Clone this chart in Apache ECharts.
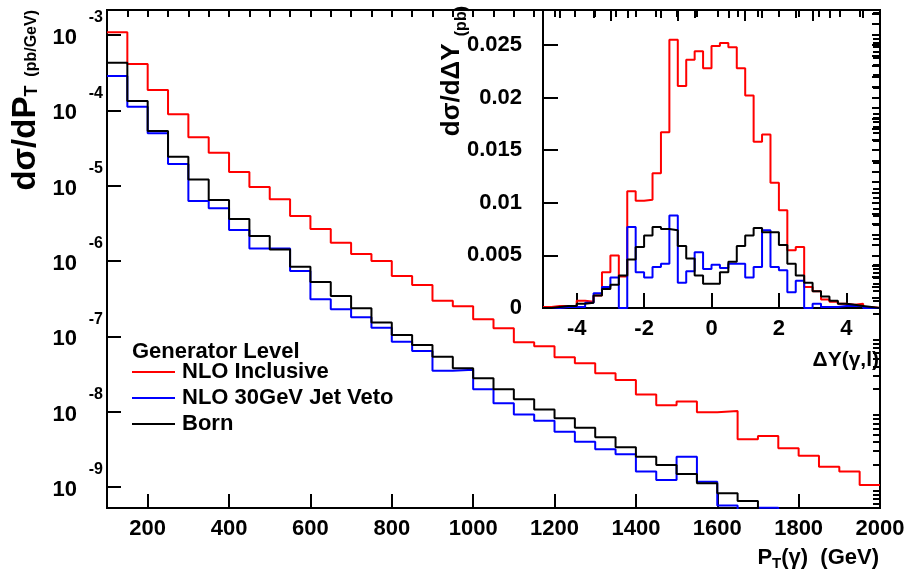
<!doctype html>
<html lang="en">
  <head>
    <meta charset="UTF-8" />
    <title>Generator level pT and delta Y</title>
    <script src="https://cdn.jsdelivr.net/npm/echarts@6/dist/echarts.min.js"></script>
    <style>
      html, body { margin: 0; padding: 0; background: #fff; }
      #chart { width: 914px; height: 576px; }
    </style>
  </head>
  <body>
    <div id="chart"></div>
    <script>
      // main panel: pT(gamma) histograms, 50 GeV bins starting at 100 GeV (pb/GeV)
      const ptStart = 100;
      const ptWidth = 50;
      const ptInclusive = [1.09e-3, 4.12e-4, 1.86e-4, 8.85e-5, 4.38e-5, 2.74e-5, 1.52e-5, 9.6e-6, 6.59e-6, 3.95e-6,
        2.66e-6, 1.75e-6, 1.24e-6, 1.0e-6, 6.32e-7, 4.8e-7, 2.97e-7, 2.5e-7, 1.68e-7, 1.28e-7,
        8.34e-8, 7.36e-8, 5.26e-8, 4.38e-8, 3.23e-8, 2.63e-8, 1.69e-8, 1.22e-8, 1.36e-8, 9.8e-9,
        1.02e-8, 4.3e-9, 4.75e-9, 3.26e-9, 2.6e-9, 1.86e-9, 1.6e-9, 1.06e-9];
      const ptJetVeto = [2.86e-4, 1.12e-4, 4.95e-5, 1.94e-5, 6.25e-6, 5.0e-6, 2.58e-6, 1.46e-6, 1.46e-6, 7.36e-7,
        3.1e-7, 2.29e-7, 1.79e-7, 1.3e-7, 8.49e-8, 6.38e-8, 3.5e-8, 3.61e-8, 1.98e-8, 1.29e-8,
        9.2e-9, 7.59e-9, 5.42e-9, 3.99e-9, 3.16e-9, 2.72e-9, 1.6e-9, 1.24e-9, 2.52e-9, 1.17e-9,
        5.68e-10, 0, 5.31e-10, 0, 0, 0, 0, 0];
      const ptBorn = [4.29e-4, 1.33e-4, 5.32e-5, 2.42e-5, 1.21e-5, 6.45e-6, 3.61e-6, 2.15e-6, 1.42e-6, 8.4e-7,
        5.26e-7, 3.43e-7, 2.36e-7, 1.53e-7, 1.04e-7, 7.67e-8, 5.36e-8, 3.76e-8, 2.77e-8, 1.98e-8,
        1.46e-8, 1.07e-8, 8.17e-9, 6.12e-9, 4.56e-9, 3.37e-9, 2.52e-9, 1.96e-9, 1.49e-9, 1.12e-9,
        8.24e-10, 6.52e-10, 0, 0, 0, 0, 0, 0];

      // inset: delta Y(gamma,l) histograms, 0.25 wide bins starting at -5 (pb)
      const dyStart = -5;
      const dyWidth = 0.25;
      const dyInclusive = [0.0001, 0.0002, 0.0002, 0.0002, 0.0007, 0.0006, 0.0012, 0.0034, 0.005, 0.003,
        0.0111, 0.0102, 0.0103, 0.0128, 0.0167, 0.0255, 0.0211, 0.0236, 0.0244, 0.0228,
        0.0249, 0.0252, 0.0248, 0.0228, 0.0202, 0.0158, 0.0165, 0.0119, 0.0093, 0.0055,
        0.0058, 0.002, 0.0016, 0.0008, 0.0006, 0.0004, 0.0003, 0.0004, 0.0001, 0];
      const dyJetVeto = [0, 0, 0.0001, 0.0001, 0.0001, 0.0005, 0.0014, 0.002, 0.0029, 0,
        0.0077, 0.0034, 0.0029, 0.0039, 0.0042, 0.0088, 0.0024, 0.0035, 0.0053, 0.0037,
        0.0041, 0.0038, 0.0042, 0.0042, 0.0029, 0.0039, 0.0074, 0.0039, 0.0036, 0.0015,
        0.0026, 0, 0.0004, 0.0001, 0.0001, 0.0002, 0.0002, 0.0002, 0, 0];
      const dyBorn = [0, 0.0001, 0.0002, 0.0002, 0.0004, 0.0005, 0.0012, 0.0018, 0.0022, 0.0031,
        0.0046, 0.0058, 0.0069, 0.0077, 0.0075, 0.0074, 0.0059, 0.0047, 0.0031, 0.0023,
        0.0023, 0.0034, 0.0044, 0.0059, 0.0069, 0.0076, 0.0072, 0.0072, 0.006, 0.0042,
        0.0031, 0.0024, 0.0016, 0.0011, 0.0007, 0.0004, 0.0003, 0.0002, 0.0001, 0];

      // ticks and labels
      const ptLabels = [200, 400, 600, 800, 1000, 1200, 1400, 1600, 1800, 2000];
      const ptMinor = [];
      for (let v = 150; v < 2000; v += 50) ptMinor.push(v);
      const decades = [1e-9, 1e-8, 1e-7, 1e-6, 1e-5, 1e-4, 1e-3];
      const decadeMinor = [];
      [1e-10].concat(decades).forEach((d) => {
        for (let k = 2; k <= 9; k++) decadeMinor.push(k * d);
      });
      const dyLabels = [-4, -2, 0, 2, 4];
      const dyMid = [-5, -3, -1, 1, 3, 5];
      const dyMinor = [-4.5, -3.5, -2.5, -1.5, -0.5, 0.5, 1.5, 2.5, 3.5, 4.5];
      const dsLabels = [0, 0.005, 0.01, 0.015, 0.02, 0.025];
      const dsMinor = [];
      for (let i = 1; i <= 28; i++) dsMinor.push(i / 1000);

      const FONT = 'Liberation Sans, Arial, Helvetica, sans-serif';
      const RED = '#ff0000';
      const BLUE = '#0000ff';
      const BLACK = '#000000';

      // histogram -> step points (left bin edges + closing right edge)
      const histo = (start, width, vals, floor) => {
        const pts = vals.map((v, i) => [start + i * width, v > 0 ? v : floor]);
        pts.push([start + vals.length * width, pts[pts.length - 1][1]]);
        return pts;
      };

      const tickAxis = (grid, type, min, max, values, len, extra) =>
        Object.assign(
          {
            gridIndex: grid,
            type: type,
            min: min,
            max: max,
            axisLine: { show: false, onZero: false },
            splitLine: { show: false },
            axisLabel: { show: false },
            axisTick: { show: true, inside: true, length: len, customValues: values, lineStyle: { color: BLACK, width: 2 } },
          },
          extra || {}
        );

      const labelStyle = { color: BLACK, fontFamily: FONT, fontWeight: 'bold', fontSize: 22, formatter: (v) => String(v) };
      const mainLine = { show: true, onZero: false, lineStyle: { color: BLACK, width: 2 } };

      const chart = echarts.init(document.getElementById('chart'));
      chart.setOption({
        animation: false,
        backgroundColor: '#fff',
        textStyle: { fontFamily: FONT },
        grid: [
          { left: 107, top: 10, right: 34, bottom: 68, show: true, borderColor: BLACK, borderWidth: 2, backgroundColor: 'transparent', containLabel: false, outerBoundsMode: 'none' },
          { left: 543, top: 10, right: 34, bottom: 268, show: true, borderColor: BLACK, borderWidth: 2, backgroundColor: 'transparent', containLabel: false, outerBoundsMode: 'none' },
        ],
        title: {
          text: 'Generator Level',
          left: 132,
          top: 341,
          padding: 0,
          textStyle: { color: BLACK, fontFamily: FONT, fontWeight: 'bold', fontSize: 22 },
        },
        legend: {
          data: ['NLO Inclusive', 'NLO 30GeV Jet Veto', 'Born'],
          orient: 'vertical',
          left: 132,
          top: 361,
          padding: 0,
          itemGap: 4,
          itemWidth: 43,
          itemHeight: 2,
          icon: 'rect',
          selectedMode: false,
          textStyle: { color: BLACK, fontFamily: FONT, fontWeight: 'bold', fontSize: 22, padding: [0, 0, 0, 2] },
        },
        xAxis: [
          tickAxis(0, 'value', ptStart, 2000, ptLabels, 14, {
            axisLine: mainLine,
            axisLabel: Object.assign({ show: true, customValues: ptLabels, margin: 10 }, labelStyle),
          }),
          tickAxis(0, 'value', ptStart, 2000, ptMinor, 7),
          tickAxis(1, 'value', -5, 5, dyLabels, 15, {
            axisLine: mainLine,
            axisLabel: Object.assign({ show: true, customValues: dyLabels, margin: 10 }, labelStyle),
          }),
          tickAxis(1, 'value', -5, 5, dyMid, 11),
          tickAxis(1, 'value', -5, 5, dyMinor, 8),
        ],
        yAxis: [
          tickAxis(0, 'log', 5.26e-10, 2.148e-3, decades, 14, {
            axisLine: mainLine,
            axisLabel: {
              show: true,
              customValues: decades,
              margin: 4,
              padding: [0, 0, 14, 0],
              formatter: (v) => '{e|' + Math.round(Math.log10(v)) + '}\n{b|10}',
              rich: {
                e: { color: BLACK, fontFamily: FONT, fontWeight: 'bold', fontSize: 16, lineHeight: 20, align: 'right' },
                b: { color: BLACK, fontFamily: FONT, fontWeight: 'bold', fontSize: 22, lineHeight: 20, align: 'right', padding: [0, 26, 0, 0] },
              },
            },
          }),
          tickAxis(0, 'log', 5.26e-10, 2.148e-3, decadeMinor, 7),
          tickAxis(1, 'value', 0, 0.02833, dsLabels, 15, {
            axisLine: mainLine,
            axisLabel: Object.assign({ show: true, customValues: dsLabels, margin: 21 }, labelStyle),
          }),
          tickAxis(1, 'value', 0, 0.02833, dsMinor, 8),
        ],
        graphic: [
          {
            type: 'text',
            x: 42,
            y: 10,
            rotation: Math.PI / 2,
            style: {
              text: '{a|dσ/dP}{s|T}{p|  (pb/GeV)}',
              align: 'right',
              verticalAlign: 'bottom',
              fill: BLACK,
              rich: {
                a: { fontFamily: FONT, fontWeight: 'bold', fontSize: 33 },
                s: { fontFamily: FONT, fontWeight: 'bold', fontSize: 18, padding: [13, 0, 0, 0] },
                p: { fontFamily: FONT, fontWeight: 'bold', fontSize: 16, padding: [13, 0, 0, 0] },
              },
            },
          },
          {
            type: 'text',
            x: 470,
            y: 6,
            rotation: Math.PI / 2,
            style: {
              text: '{a|dσ/dΔY }{p|(pb)}',
              align: 'right',
              verticalAlign: 'bottom',
              fill: BLACK,
              rich: {
                a: { fontFamily: FONT, fontWeight: 'bold', fontSize: 26 },
                p: { fontFamily: FONT, fontWeight: 'bold', fontSize: 16, padding: [20, 0, 0, 0] },
              },
            },
          },
          {
            type: 'text',
            x: 879,
            y: 544,
            style: {
              text: '{a|P}{s|T}{a|(γ)  (GeV)}',
              align: 'right',
              verticalAlign: 'top',
              fill: BLACK,
              rich: {
                a: { fontFamily: FONT, fontWeight: 'bold', fontSize: 22 },
                s: { fontFamily: FONT, fontWeight: 'bold', fontSize: 15, padding: [12, 0, 0, 0] },
              },
            },
          },
          {
            type: 'text',
            x: 879,
            y: 360,
            style: {
              text: 'ΔY(γ,l)',
              align: 'right',
              verticalAlign: 'middle',
              fill: BLACK,
              font: 'bold 21px ' + FONT,
            },
          },
        ],
        series: [
          { name: 'NLO Inclusive', type: 'line', xAxisIndex: 0, yAxisIndex: 0, step: 'end', showSymbol: false, z: 2,
            color: RED, lineStyle: { color: RED, width: 2 }, data: histo(ptStart, ptWidth, ptInclusive, 1e-12) },
          { name: 'NLO 30GeV Jet Veto', type: 'line', xAxisIndex: 0, yAxisIndex: 0, step: 'end', showSymbol: false, z: 3,
            color: BLUE, lineStyle: { color: BLUE, width: 2 }, data: histo(ptStart, ptWidth, ptJetVeto, 1e-12) },
          { name: 'Born', type: 'line', xAxisIndex: 0, yAxisIndex: 0, step: 'end', showSymbol: false, z: 4,
            color: BLACK, lineStyle: { color: BLACK, width: 2 }, data: histo(ptStart, ptWidth, ptBorn, 1e-12) },
          { name: 'NLO Inclusive', type: 'line', xAxisIndex: 2, yAxisIndex: 2, step: 'end', showSymbol: false, z: 2,
            color: RED, lineStyle: { color: RED, width: 2 }, data: histo(dyStart, dyWidth, dyInclusive, 0) },
          { name: 'NLO 30GeV Jet Veto', type: 'line', xAxisIndex: 2, yAxisIndex: 2, step: 'end', showSymbol: false, z: 3,
            color: BLUE, lineStyle: { color: BLUE, width: 2 }, data: histo(dyStart, dyWidth, dyJetVeto, 0) },
          { name: 'Born', type: 'line', xAxisIndex: 2, yAxisIndex: 2, step: 'end', showSymbol: false, z: 4,
            color: BLACK, lineStyle: { color: BLACK, width: 2 }, data: histo(dyStart, dyWidth, dyBorn, 0) },
        ],
      });
    </script>
  </body>
</html>
